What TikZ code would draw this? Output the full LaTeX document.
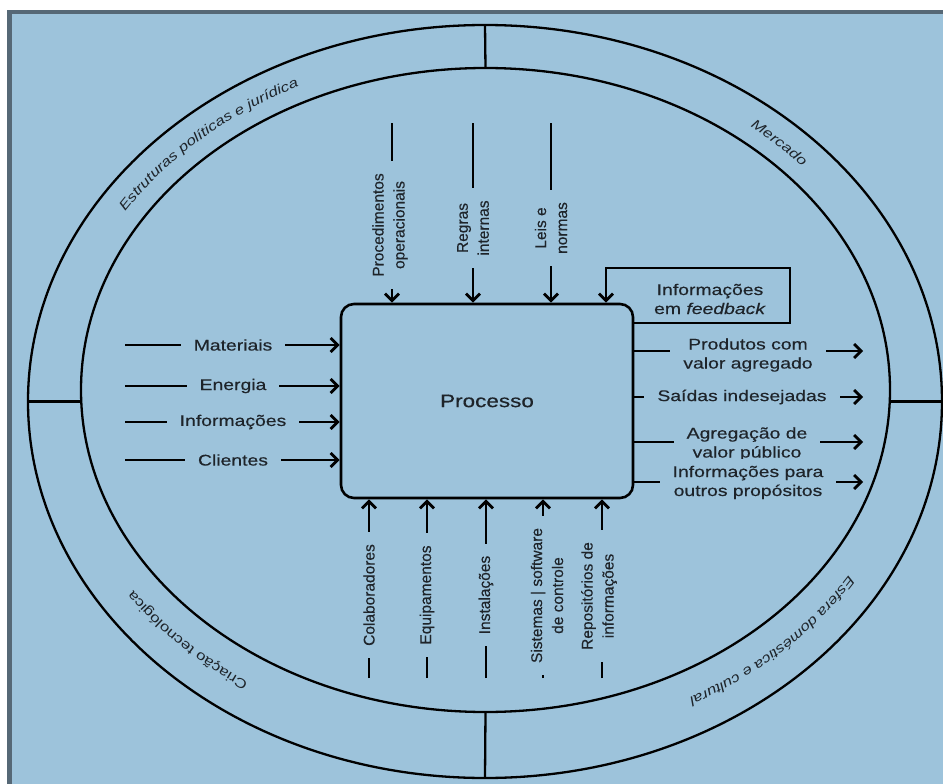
\documentclass[tikz,border=0pt]{standalone}
\usepackage{fontspec}
\setmainfont{Liberation Sans}[FakeBold=0.35]
\newfontfamily\widesans[FakeStretch=1.25,FakeBold=0.35]{Liberation Sans}
\newfontfamily\ringsans[FakeStretch=1.25]{Liberation Sans}
\usetikzlibrary{arrows.meta,shapes.geometric,decorations.text}

\definecolor{bgc}{RGB}{157,195,219}
\definecolor{framec}{RGB}{86,104,118}
\definecolor{txtc}{RGB}{30,36,42}

% fonts for the labels written along the outer ring
\newcommand\ringit{\color{txtc}\ringsans\itshape\fontsize{13.5}{16}\selectfont}
\newcommand\ringup{\color{txtc}\ringsans\fontsize{13.5}{16}\selectfont}

\begin{document}
\begin{tikzpicture}[x=1pt,y=1pt,
  ring/.style={ellipse, draw, line width=2.3pt, inner sep=0pt, outer sep=0pt},
  ringline/.style={line width=2.3pt},
  arr/.style={line width=2.8pt, -{Straight Barb[length=7pt,width=14pt]}},
  hl/.style={font=\widesans\fontsize{15.5}{19}\selectfont, text=txtc, fill=bgc,
             inner xsep=13pt, inner ysep=6.5pt, align=center},
  vl/.style={font=\fontsize{15.5}{21}\selectfont, text=txtc, fill=bgc, rotate=90,
             inner xsep=12pt, inner ysep=1pt, align=center},
  ringtext/.style={decorate, decoration={text along path, text align=center, text={#1}}}
]
\useasboundingbox (0,0) rectangle (943,-784);
\clip (0,0) rectangle (943,-784);
\fill[white] (0,0) rectangle (943,-784);

% framed panel
\draw[line width=4.5pt, draw=framec, fill=bgc] (9.5,-12) rectangle (980,-820);

% environment ring
\node[ring, minimum width=914pt, minimum height=753pt] (outer) at (485,-401.5) {};
\node[ring, minimum width=809pt, minimum height=644pt] (inner) at (485.5,-390) {};
\draw[ringline] (outer.north) -- (inner.north);
\draw[ringline] (outer.south) -- (inner.south);
\draw[ringline] (outer.west) -- (outer.west -| inner.west);
\draw[ringline] (outer.east) -- (outer.east -| inner.east);

% ring labels (clockwise, tops of letters outward)
\path[ringtext={|\ringit|Estruturas políticas e jurídica}]
  ([shift={(485,-396)}]165:426 and 344) arc[start angle=165, end angle=101, x radius=426, y radius=344];
\path[ringtext={|\ringit|Mercado}]
  ([shift={(485,-396)}]66:426 and 344) arc[start angle=66, end angle=26, x radius=426, y radius=344];
\path[ringtext={|\ringit|Esfera doméstica e cultural}]
  ([shift={(485,-396)}]348:426 and 344) arc[start angle=348, end angle=282, x radius=426, y radius=344];
\path[ringtext={|\ringup|Criação tecnológica}]
  ([shift={(485,-396)}]254:426 and 344) arc[start angle=254, end angle=194, x radius=426, y radius=344];

% the process
\node[draw, line width=2.6pt, rounded corners=13pt, minimum width=292pt, minimum height=194pt,
      font=\widesans\fontsize{18}{22}\selectfont, text=txtc] (proc) at (487,-401) {Processo};

% inputs from the left
\coordinate (in1) at (125,-345);
\coordinate (in2) at (125,-386);
\coordinate (in3) at (125,-422);
\coordinate (in4) at (125,-460);
\foreach \n in {1,...,4} \draw[arr] (in\n) -- (in\n -| proc.west);
\node[hl] (lin1) at (233,-345) {Materiais};
\node[hl] (lin2) at (233,-386) {Energia};
\node[hl] (lin3) at (233,-422) {Informações};
\node[hl] (lin4) at (233,-460) {Clientes};

% controls from the top
\coordinate (tp1) at (392,-123);
\coordinate (tp2) at (473,-123);
\coordinate (tp3) at (551,-123);
\foreach \n in {1,2,3} \draw[arr] (tp\n) -- (tp\n |- proc.north);
\node[vl] (ltp1) at (390,-225) {Procedimentos\\operacionais};
\node[vl] (ltp2) at (473,-228) {Regras\\internas};
\node[vl] (ltp3) at (551,-228) {Leis e\\normas};

% feedback loop
\coordinate (fb1) at (790,-323);
\coordinate (fb2) at (790,-268);
\coordinate (fb3) at (606,-268);
\draw[arr] (fb1 -| proc.east) -- (fb1) -- (fb2) -- (fb3) -- (fb3 |- proc.north);
\node[hl, fill=none] (lfb) at (710,-299) {Informações\\em \textit{feedback}};

% outputs to the right
\coordinate (out1) at (863,-351);
\coordinate (out2) at (863,-397);
\coordinate (out3) at (863,-442);
\coordinate (out4) at (863,-482);
\foreach \n in {1,...,4} \draw[arr] (out\n -| proc.east) -- (out\n);
\node[hl] (lout1) at (748,-355) {Produtos com\\valor agregado};
\node[hl] (lout2) at (742,-397) {Saídas indesejadas};
\node[hl] (lout3) at (747,-444) {Agregação de\\valor público};
\node[hl] (lout4) at (748,-482.5) {Informações para\\outros propósitos};

% resources from below
\coordinate (bt1) at (369,-678);
\coordinate (bt2) at (427,-678);
\coordinate (bt3) at (486,-678);
\coordinate (bt4) at (543,-678);
\coordinate (bt5) at (602,-678);
\foreach \n in {1,...,5} \draw[arr] (bt\n) -- (bt\n |- proc.south);
\node[vl] (lbt1) at (369,-595) {Colaboradores};
\node[vl] (lbt2) at (427,-595) {Equipamentos};
\node[vl] (lbt3) at (486,-595) {Instalações};
\node[vl] (lbt4) at (547,-595.5) {Sistemas | software\\de controle};
\node[vl] (lbt5) at (599,-596) {Repositórios de\\informações};
\end{tikzpicture}
\end{document}
